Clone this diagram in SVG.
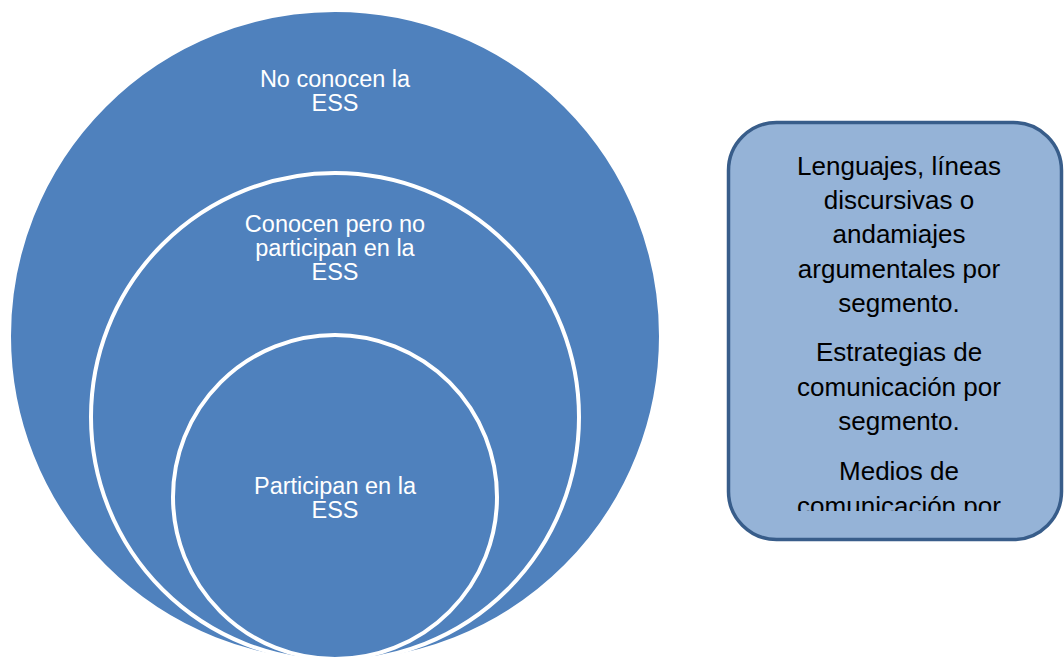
<svg xmlns="http://www.w3.org/2000/svg" width="1064" height="657" viewBox="0 0 1064 657">
  <style>
    .ring { fill: #4F81BD; stroke: #FFFFFF; stroke-width: 4; }
    .ctext { font-family: "Liberation Sans", Arial, sans-serif; font-size: 23.5px; fill: #FFFFFF; text-anchor: middle; }
    .box { fill: #95B3D7; stroke: #385D8A; stroke-width: 3.5; }
    .btext { font-family: "Liberation Sans", Arial, sans-serif; font-size: 26px; fill: #000000; text-anchor: middle; }
  </style>
  <defs>
    <clipPath id="boxclip">
      <rect x="730" y="124" width="330" height="387"/>
    </clipPath>
  </defs>
  <rect width="1064" height="657" fill="#FFFFFF"/>
  <g id="outer">
    <circle class="ring" cx="335" cy="336" r="326"/>
    <text class="ctext" x="335" y="87">No conocen la</text>
    <text class="ctext" x="335" y="111">ESS</text>
  </g>
  <g id="middle">
    <circle class="ring" cx="335" cy="417" r="244"/>
    <text class="ctext" x="335" y="232">Conocen pero no</text>
    <text class="ctext" x="335" y="256">participan en la</text>
    <text class="ctext" x="335" y="280">ESS</text>
  </g>
  <g id="inner">
    <circle class="ring" cx="335" cy="497" r="162"/>
    <text class="ctext" x="335" y="494">Participan en la</text>
    <text class="ctext" x="335" y="518">ESS</text>
  </g>
  <g id="textbox">
    <rect class="box" x="728.5" y="122.5" width="333" height="417" rx="48" ry="48"/>
    <g clip-path="url(#boxclip)">
      <text class="btext" x="899" y="174.5">Lenguajes, líneas</text>
      <text class="btext" x="899" y="208.5">discursivas o</text>
      <text class="btext" x="899" y="243">andamiajes</text>
      <text class="btext" x="899" y="277.5">argumentales por</text>
      <text class="btext" x="899" y="311.5">segmento.</text>
      <text class="btext" x="899" y="361">Estrategias de</text>
      <text class="btext" x="899" y="395.5">comunicación por</text>
      <text class="btext" x="899" y="430">segmento.</text>
      <text class="btext" x="899" y="480">Medios de</text>
      <text class="btext" x="899" y="514.5">comunicación por</text>
    </g>
  </g>
  <g id="connectors"/>
</svg>
